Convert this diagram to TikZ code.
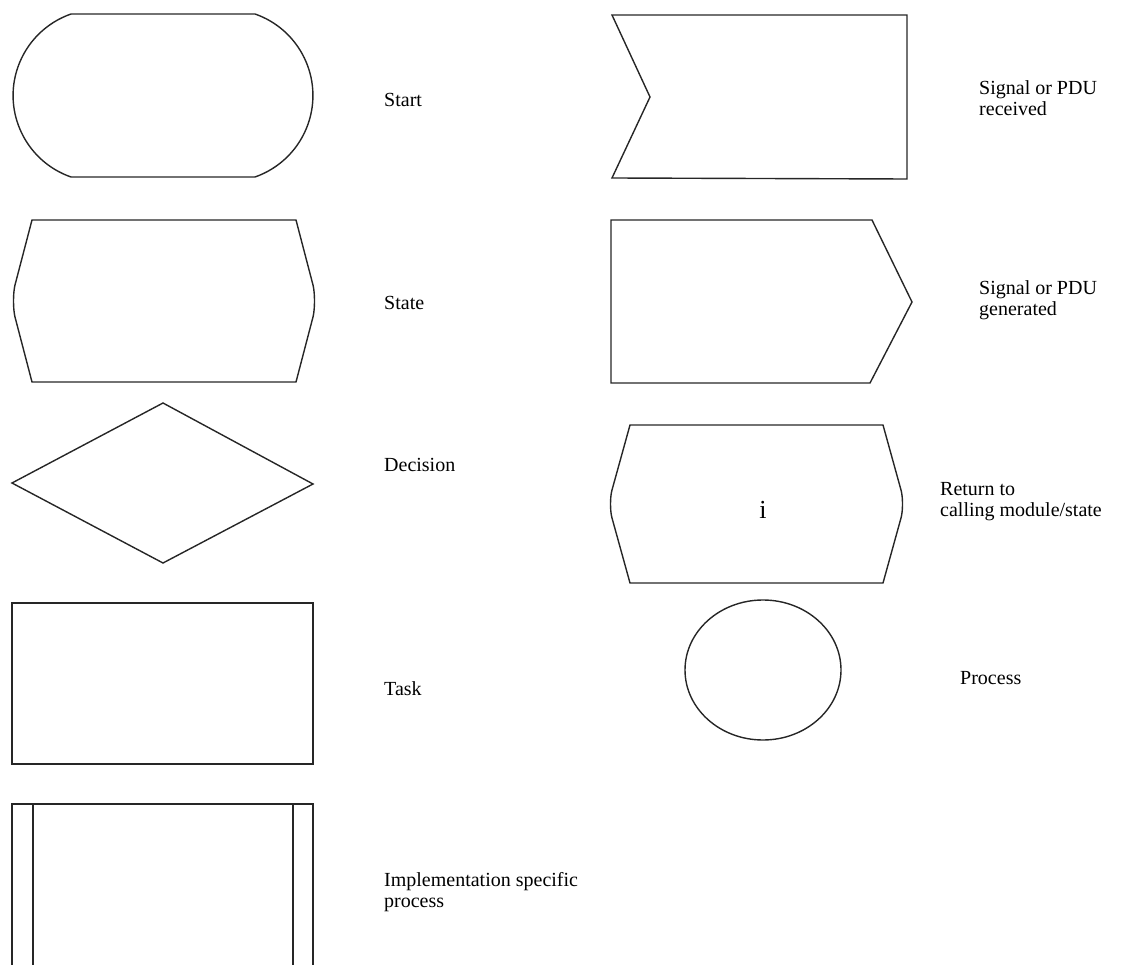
\documentclass[tikz,border=0pt]{standalone}
\usepackage{fontspec}
\setmainfont{Liberation Serif}
\begin{document}
\begin{tikzpicture}[x=1pt,y=-1pt,
  shp/.style={draw=black!85,line width=1.4pt,line join=miter},
  lbl/.style={anchor=west,align=left,inner sep=0pt,font=\fontsize{20}{21}\selectfont}]
\useasboundingbox (0,0) rectangle (1140,965);
% Start
\draw[shp] (71,14) -- (255,14) arc[start angle=70.8,end angle=-70.8,x radius=86.3,y radius=-86.3]
  -- (71,177) arc[start angle=-109.2,end angle=-250.8,x radius=86.3,y radius=-86.3] -- cycle;
% State
\draw[shp] (32,220) -- (296,220) -- (313,285) .. controls (315,293) and (315,309) .. (313,317) -- (296,382)
  -- (32,382) -- (15,317) .. controls (13,309) and (13,293) .. (15,285) -- cycle;
% Decision
\draw[shp] (163,403) -- (313,484) -- (163,563) -- (12,483) -- cycle;
% Task
\draw[shp] (12,603) rectangle (313,764);
% Implementation specific process
\draw[shp] (12,965) -- (12,804) -- (313,804) -- (313,965);
\draw[shp] (33,804) -- (33,965);
\draw[shp] (293,804) -- (293,965);
% Signal received
\draw[shp] (612,15) -- (907,15) -- (907,179) -- (612,178) -- (650,97) -- cycle;
% Signal generated
\draw[shp] (611,220) -- (872,220) -- (912,302) -- (870,383) -- (611,383) -- cycle;
% Return
\draw[shp] (630,425) -- (883,425) -- (901,490) .. controls (903,497) and (903,511) .. (901,518) -- (883,583)
  -- (630,583) -- (612,518) .. controls (610,511) and (610,497) .. (612,490) -- cycle;
\node[inner sep=0pt,font=\fontsize{26}{26}\selectfont] (iret) at (763,510) {i};
% Process
\draw[shp] (763,670) ellipse[x radius=78,y radius=70];
% Labels
\node[lbl] (lstart) at (384,100) {Start};
\node[lbl] (lstate) at (384,303) {State};
\node[lbl] (ldec) at (384,465) {Decision};
\node[lbl] (ltask) at (384,689) {Task};
\node[lbl] (limpl) at (384,892) {Implementation specific\\process};
\node[lbl] (lrec) at (979,98) {Signal or PDU\\received};
\node[lbl] (lgen) at (979,300) {Signal or PDU\\generated};
\node[lbl] (lret) at (940,502) {Return to\\calling module/state};
\node[lbl] (lproc) at (960,678) {Process};
\end{tikzpicture}
\end{document}
